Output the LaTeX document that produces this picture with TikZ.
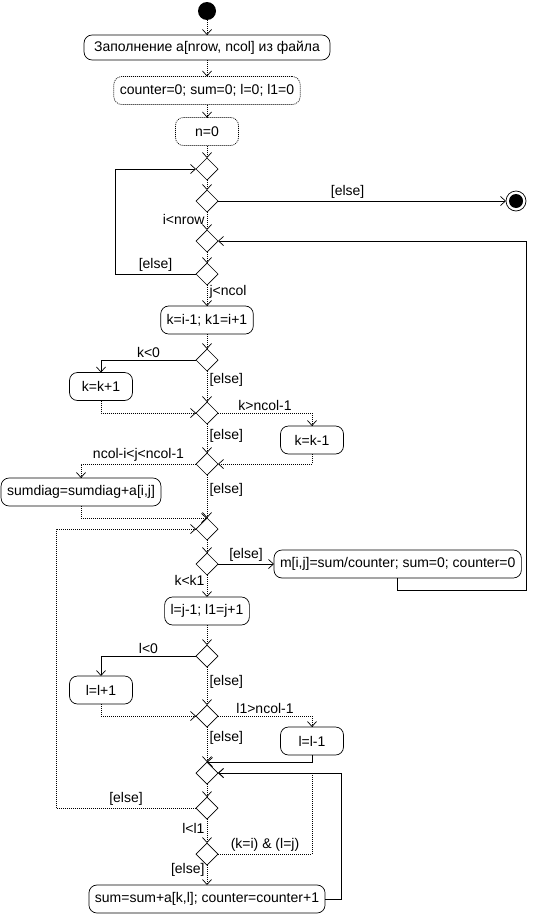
\documentclass[tikz,border=0pt]{standalone}
\usepackage{fontspec}
\setmainfont{Liberation Sans}
\usetikzlibrary{positioning,arrows.meta,shapes.geometric,calc}

\begin{document}
\begin{tikzpicture}[x=1pt,y=1pt,font=\fontsize{14pt}{16pt}\selectfont,
  >={Straight Barb[length=5pt,width=9pt]},line width=.7pt,inner sep=2.5pt,outer sep=0pt,
  act/.style={draw,rounded corners=8pt,align=center,minimum height=28pt,minimum width=63pt,inner xsep=6pt},
  actd/.style={act,dash pattern=on 1pt off 1pt},
  dec/.style={draw,diamond,aspect=1,minimum width=22pt,minimum height=22pt,inner sep=0pt},
  startdot/.style={circle,fill,minimum size=18pt,inner sep=0pt},
  enddot/.style={circle,draw,minimum size=20pt,inner sep=0pt,
    path picture={\fill (path picture bounding box.center) circle (7pt);}},
  flow/.style={->},
  flowd/.style={->,dash pattern=on 1pt off 1pt}]
\useasboundingbox (0,0) rectangle (551,-918);
\node[startdot] (start) at (207,-11) {};
\node[act,below=15pt of start,minimum height=25pt,inner xsep=10pt] (fill) {Заполнение а[nrow, ncol] из файла};
\node[actd,below=16.5pt of fill] (init) {counter=0; sum=0; l=0; l1=0};
\node[actd,below=13pt of init] (nzero) {n=0};
\node[dec,below=12.5pt of nzero] (imerge) {};
\node[dec,below=10pt of imerge] (itest) {};
\node[enddot,right=288pt of itest] (stop) {};
\node[dec,below=18pt of itest] (jmerge) {};
\node[dec,below=11pt of jmerge] (jtest) {};
\node[act,below=21pt of jtest] (kset) {k=i-1; k1=i+1};
\node[dec,below=15pt of kset] (kneg) {};
\node[dec,below=31pt of kneg] (kbig) {};
\node[dec,below=29pt of kbig] (kdiag) {};
\node[dec,below=43pt of kdiag] (kmerge) {};
\node[dec,below=13pt of kmerge] (ktest) {};
\node[act,below=22pt of ktest] (lset) {l=j-1; l1=j+1};
\node[dec,below=20pt of lset] (lneg) {};
\node[dec,below=38pt of lneg] (lbig) {};
\node[dec,below=35pt of lbig] (lmerge) {};
\node[dec,below=13pt of lmerge] (ltest) {};
\node[dec,below=24pt of ltest] (self) {};
\node[act,below=20pt of self] (acc) {sum=sum+a[k,l]; counter=counter+1};
\node[act,xshift=-106pt] (kinc) at ($(kneg)!.5!(kbig)$) {k=k+1};
\node[act,xshift=105pt,yshift=-1.5pt] (kdec) at ($(kbig)!.5!(kdiag)$) {k=k-1};
\node[act,xshift=-126pt,yshift=4.5pt] (diag) at ($(kdiag)!.5!(kmerge)$) {sumdiag=sumdiag+a[i,j]};
\node[act,right=56pt of ktest] (mean) {m[i,j]=sum/counter; sum=0; counter=0};
\node[act,xshift=-106pt,yshift=-4pt] (linc) at ($(lneg)!.5!(lbig)$) {l=l+1};
\node[act,xshift=105pt,yshift=3.5pt] (ldec) at ($(lbig)!.5!(lmerge)$) {l=l-1};
\coordinate (iret) at ($(imerge.west)+(-81,0)$);
\coordinate (jret) at ($(mean.south)+(0,-12)$);
\coordinate (kret) at ($(kmerge.west)+(-140,0)$);
\coordinate (lret) at ($(acc.east |- lmerge.east)+(16,0)$);
\draw[flowd] (start) -- (fill);
\draw[flowd] (fill) -- (init);
\draw[flowd] (init) -- (nzero);
\draw[flowd] (nzero) -- (imerge);
\draw[flowd] (imerge) -- (itest);
\draw[flow] (itest) -- node[above,pos=.45] {[else]} (stop);
\draw[flowd] (itest) -- node[left,pos=.4] {i<nrow} (jmerge);
\draw[flowd] (jmerge) -- (jtest);
\draw[flowd] (jtest) -- node[right,pos=.35] {j<ncol} (kset);
\draw[flow] (jtest.west) -| node[above,pos=.25] {[else]} (iret) -- (imerge.west);
\draw[flow] (mean.south) |- (jret -| stop.east) |- (jmerge.east);
\draw[flowd] (kset) -- (kneg);
\draw[flow] (kneg.west) -| node[above,pos=.25] {k<0} (kinc.north);
\draw[flowd] (kneg) -- node[right,pos=.3] {[else]} (kbig);
\draw[flowd] (kinc.south) |- (kbig.west);
\draw[flowd] (kbig.east) -| node[above,pos=.25] {k>ncol-1} (kdec.north);
\draw[flowd] (kbig) -- node[right,pos=.4] {[else]} (kdiag);
\draw[flowd] (kdec.south) |- (kdiag.east);
\draw[flowd] (kdiag.west) -| node[above,pos=.25] {ncol-i<j<ncol-1} (diag.north);
\draw[flowd] (kdiag) -- node[right,pos=.35] {[else]} (kmerge);
\draw[flowd] (diag.south) |- (kmerge.north);
\draw[flowd] (ltest.west) -| node[above,pos=.25] {[else]} (kret) -- (kmerge.west);
\draw[flowd] (kmerge) -- (ktest);
\draw[flow] (ktest) -- node[above] {[else]} (mean);
\draw[flowd] (ktest) -- node[left,pos=.25] {k<k1} (lset);
\draw[flowd] (lset) -- (lneg);
\draw[flow] (lneg.west) -| node[above,pos=.25] {l<0} (linc.north);
\draw[flowd] (lneg) -- node[right,pos=.4] {[else]} (lbig);
\draw[flowd] (linc.south) |- (lbig.west);
\draw[flowd] (lbig.east) -| node[above,pos=.25] {l1>ncol-1} (ldec.north);
\draw[flowd] (lbig) -- node[right,pos=.3] {[else]} (lmerge);
\draw[flow] (ldec.south) |- (lmerge.north);
\draw[flowd] (lmerge) -- (ltest);
\draw[flowd] (ltest) -- node[left,pos=.4] {l<l1} (self);
\draw[flowd] (self.east) -| node[above,pos=.25] {(k=i) \& (l=j)} (lmerge.east -| ldec.south) -- (lmerge.east);
\draw[flowd] (self) -- node[left,pos=.25] {[else]} (acc);
\draw[flow] (acc.east) -| (lret) -- (lmerge.east);
\end{tikzpicture}
\end{document}
